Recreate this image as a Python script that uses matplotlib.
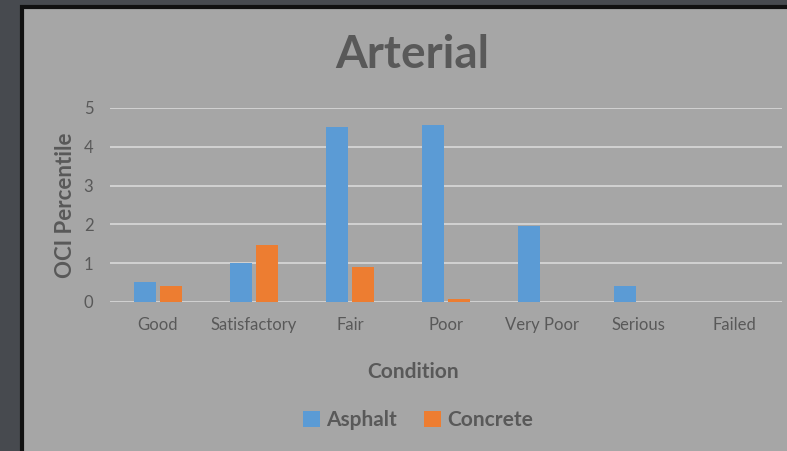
import numpy as np
import matplotlib.pyplot as plt
from matplotlib.patches import Rectangle

# chart data
conditions = ['Good', 'Satisfactory', 'Fair', 'Poor', 'Very Poor', 'Serious', 'Failed']
asphalt = [0.52, 1.0, 4.5, 4.55, 1.95, 0.42, 0.0]
concrete = [0.42, 1.47, 0.9, 0.08, 0.0, 0.0, 0.0]

blue = '#5B9BD5'
orange = '#ED7D31'
panel = '#a6a6a6'
txt = '#595959'

plt.rcParams['font.family'] = ['Lato', 'DejaVu Sans']

fig = plt.figure(figsize=(7.87, 4.51), dpi=100)
fig.patch.set_facecolor('#474a4f')

# gray chart panel with black frame
fig.patches.append(Rectangle((22 / 787, -0.05), 1.0, 1 - 7 / 451 + 0.05,
                             transform=fig.transFigure, facecolor=panel,
                             edgecolor='#111111', linewidth=3, zorder=-5))

ax = fig.add_axes([110 / 787, 1 - 302 / 451, 672 / 787, 194 / 451])
ax.set_facecolor('none')
ax.set_zorder(2)

x = np.arange(len(conditions))
w = 0.23
ax.bar(x - 0.14, asphalt, w, color=blue, label='Asphalt', zorder=3)
ax.bar(x + 0.135, concrete, w, color=orange, label='Concrete', zorder=3)

ax.set_xlim(-0.5, len(conditions) - 0.5)
ax.set_ylim(0, 5)
ax.set_yticks(range(6))
ax.set_xticks(x)
ax.set_xticklabels(conditions)
ax.grid(axis='y', color='#d9d9d9', linewidth=1.2, zorder=0)
for s in ax.spines.values():
    s.set_visible(False)
ax.tick_params(length=0, colors=txt, labelsize=12)
ax.tick_params(axis='x', pad=11)
ax.tick_params(axis='y', pad=12)

ax.set_ylabel('OCI Percentile', fontsize=16, fontweight='bold', color=txt)
ax.yaxis.set_label_coords((65 - 110) / 672, 0.5)
ax.set_xlabel('Condition', fontsize=15, fontweight='bold', color=txt)
ax.xaxis.set_label_coords((413 - 110) / 672, -(372 - 302) / 194)
ax.xaxis.label.set_va('center')
ax.yaxis.label.set_va('center')
fig.text(412 / 787, 1 - 55 / 451, 'Arterial', ha='center', va='center',
         fontsize=33, fontweight='bold', color=txt)

leg = fig.legend(loc='center', bbox_to_anchor=(418 / 787, 1 - 420 / 451), ncol=2,
                 frameon=False, handlelength=0.8, handleheight=0.8,
                 handletextpad=0.3, columnspacing=1.3,
                 prop={'size': 15, 'weight': 'bold'})
for t in leg.get_texts():
    t.set_color(txt)

fig.savefig('out.png', dpi=100, facecolor=fig.get_facecolor())
